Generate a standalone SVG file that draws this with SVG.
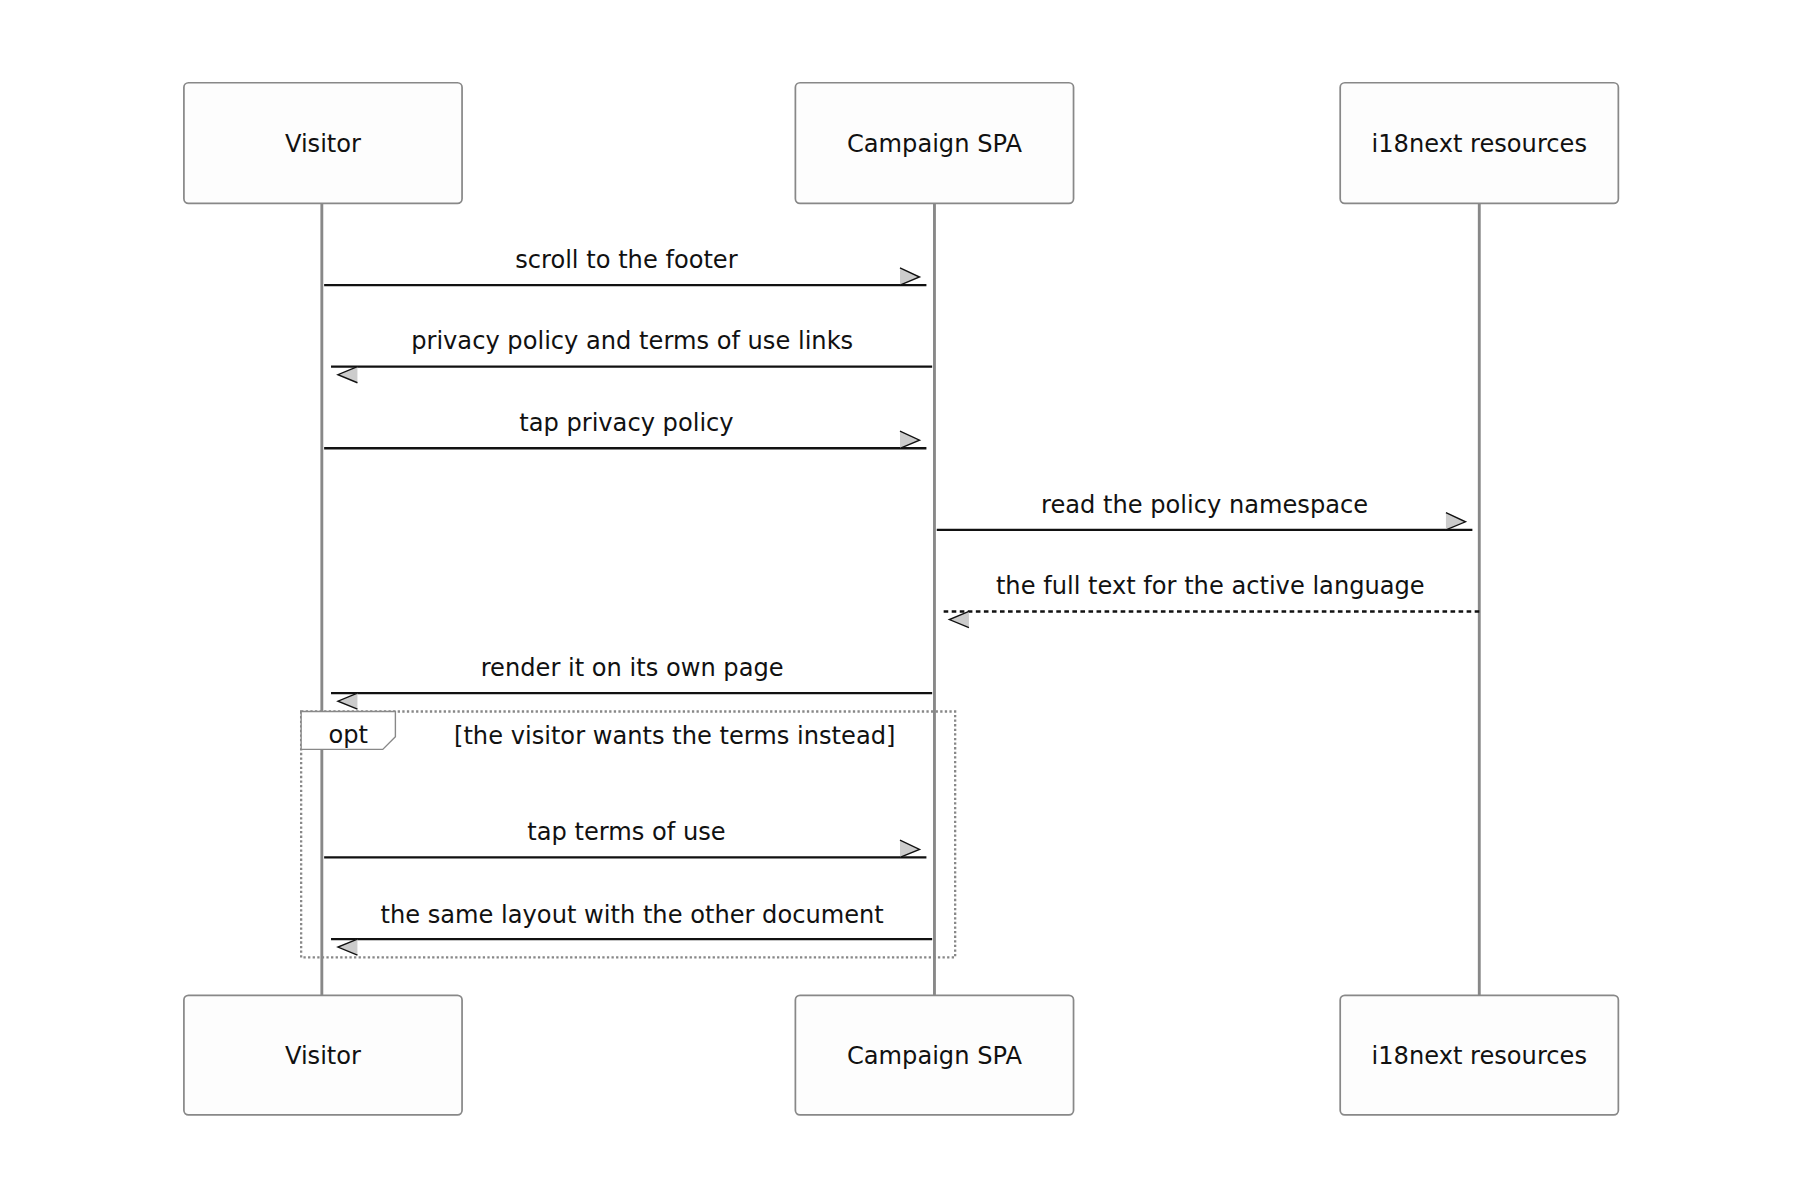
<svg xmlns="http://www.w3.org/2000/svg" width="1800" height="1200" viewBox="0 0 1800 1200">
<style>
.box{fill:#fdfdfd;stroke:#888;stroke-width:1.5}
.life{stroke:#888;stroke-width:2.5}
.lbl{font-family:"DejaVu Sans",sans-serif;font-size:21px;fill:#111;text-anchor:middle}
.msg{stroke:#111;stroke-width:2;fill:none}
.dash{stroke-dasharray:4 3}
.ah{fill:#ccc;stroke:none}
.ahs{fill:none;stroke:#111;stroke-width:1.2}
</style>
<rect width="1800" height="1200" fill="#fff"/>
<g transform="scale(1.1494)">
<g id="lifelines">
<line class="life" x1="280" y1="177" x2="280" y2="866"/>
<line class="life" x1="813" y1="177" x2="813" y2="866"/>
<line class="life" x1="1287" y1="177" x2="1287" y2="866"/>
</g>
<g id="visitor-top"><rect class="box" x="160" y="72" width="242" height="105" rx="4"/><text class="lbl" x="281" y="132">Visitor</text></g>
<g id="spa-top"><rect class="box" x="692" y="72" width="242" height="105" rx="4"/><text class="lbl" x="813" y="132">Campaign SPA</text></g>
<g id="i18n-top"><rect class="box" x="1166" y="72" width="242" height="105" rx="4"/><text class="lbl" x="1287" y="132">i18next resources</text></g>
<g id="visitor-bottom"><rect class="box" x="160" y="866" width="242" height="104" rx="4"/><text class="lbl" x="281" y="926">Visitor</text></g>
<g id="spa-bottom"><rect class="box" x="692" y="866" width="242" height="104" rx="4"/><text class="lbl" x="813" y="926">Campaign SPA</text></g>
<g id="i18n-bottom"><rect class="box" x="1166" y="866" width="242" height="104" rx="4"/><text class="lbl" x="1287" y="926">i18next resources</text></g>
<g id="opt">
<rect x="262" y="619" width="569" height="214" fill="none" stroke="#888" stroke-width="2" stroke-dasharray="2 2"/>
<path d="M262 619 H344 V641 L333 652 H262 Z" fill="#fff" stroke="#888" stroke-width="1.2"/>
<text class="lbl" x="303" y="646">opt</text>
<text class="lbl" x="587" y="647">[the visitor wants the terms instead]</text>
</g>
<g id="connectors">
<line class="msg" x1="282" y1="248" x2="806" y2="248"/>
<line class="msg" x1="811" y1="319" x2="288" y2="319"/>
<line class="msg" x1="282" y1="390" x2="806" y2="390"/>
<line class="msg" x1="815" y1="461" x2="1281" y2="461"/>
<line class="msg dash" x1="1287" y1="532" x2="820" y2="532"/>
<line class="msg" x1="811" y1="603" x2="288" y2="603"/>
<line class="msg" x1="282" y1="746" x2="806" y2="746"/>
<line class="msg" x1="811" y1="817" x2="288" y2="817"/>
<g id="heads">
<path class="ah" d="M783 233 L800 241 L783 248 Z"/><path class="ahs" d="M783 233 L800 241 L783 248"/>
<path class="ah" d="M311 319 L294 326 L311 333 Z"/><path class="ahs" d="M311 319 L294 326 L311 333"/>
<path class="ah" d="M783 375 L800 383 L783 390 Z"/><path class="ahs" d="M783 375 L800 383 L783 390"/>
<path class="ah" d="M1258 446 L1275 454 L1258 461 Z"/><path class="ahs" d="M1258 446 L1275 454 L1258 461"/>
<path class="ah" d="M843 532 L826 539 L843 546 Z"/><path class="ahs" d="M843 532 L826 539 L843 546"/>
<path class="ah" d="M311 603 L294 610 L311 617 Z"/><path class="ahs" d="M311 603 L294 610 L311 617"/>
<path class="ah" d="M783 731 L800 739 L783 746 Z"/><path class="ahs" d="M783 731 L800 739 L783 746"/>
<path class="ah" d="M311 817 L294 824 L311 831 Z"/><path class="ahs" d="M311 817 L294 824 L311 831"/>
</g>
<text class="lbl" x="545" y="233">scroll to the footer</text>
<text class="lbl" x="550" y="304">privacy policy and terms of use links</text>
<text class="lbl" x="545" y="375">tap privacy policy</text>
<text class="lbl" x="1048" y="446">read the policy namespace</text>
<text class="lbl" x="1053" y="517">the full text for the active language</text>
<text class="lbl" x="550" y="588">render it on its own page</text>
<text class="lbl" x="545" y="731">tap terms of use</text>
<text class="lbl" x="550" y="803">the same layout with the other document</text>
</g>
</g>
</svg>
